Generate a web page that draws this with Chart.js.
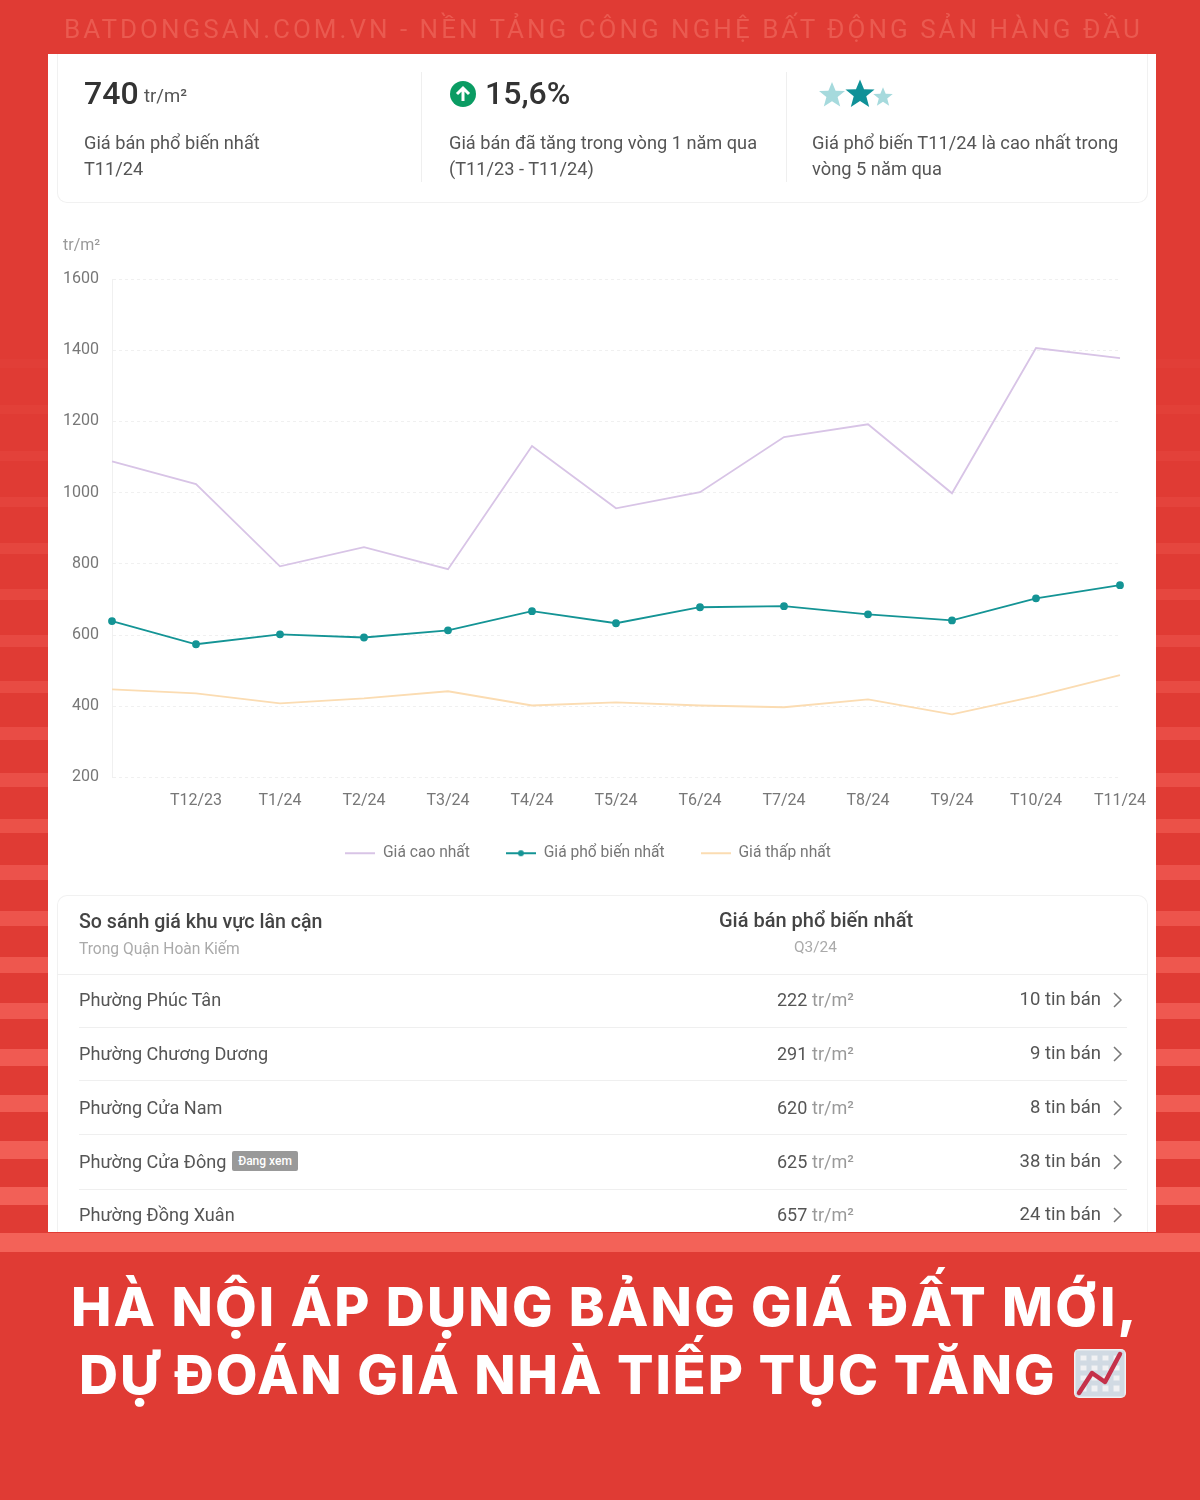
<!DOCTYPE html>
<html lang="vi">
<head>
<meta charset="utf-8">
<title>Bảng giá đất Hà Nội</title>
<script src="https://cdn.jsdelivr.net/npm/chart.js@4"></script>
<style>
html, body { margin: 0; padding: 0; }
body { width: 1200px; height: 1500px; position: relative; overflow: hidden; background: #e03b34; font-family: Roboto, sans-serif; }
.stripe { position: absolute; left: 0; width: 1200px; background: #ff7a70; }
#panel { position: absolute; left: 48px; top: 54px; width: 1108px; height: 1178px; background: #fff; }
.card { position: absolute; left: 57px; width: 1091px; border: 1px solid #f1f1f1; box-sizing: border-box; }
.t { position: absolute; white-space: nowrap; transform: translateY(-50%); color: #555; }
.line { position: absolute; background: #efefef; }
canvas#chart { position: absolute; left: 48px; top: 229px; }
svg { position: absolute; overflow: visible; }
</style>
</head>
<body>
<div id="stripes"></div>
<div id="panel"></div>
<div class="card" style="top:54px;height:149px;border-top:none;border-radius:0 0 10px 10px"></div>
<div class="card" style="top:895px;height:337px;border-bottom:none;border-radius:10px 10px 0 0"></div>
<canvas id="chart" width="1108" height="642"></canvas>
<svg style="left:0;top:0" width="1200" height="1500">
  <circle cx="463" cy="94" r="13" fill="#0a9c63"/>
  <path d="M463 101V88M457 94l6-6 6 6" stroke="#fff" stroke-width="3" fill="none"/>
  <path d="M0-13 3.6-4.2 13-4 5.6 2 8.2 11.5 0 6.2-8.2 11.5-5.6 2-13-4-3.6-4.2Z" fill="#a6dadd" transform="translate(832 95)"/>
  <path d="M0-13 3.6-4.2 13-4 5.6 2 8.2 11.5 0 6.2-8.2 11.5-5.6 2-13-4-3.6-4.2Z" fill="#a6dadd" transform="translate(883 97) scale(.75)"/>
  <path d="M0-13 3.6-4.2 13-4 5.6 2 8.2 11.5 0 6.2-8.2 11.5-5.6 2-13-4-3.6-4.2Z" fill="#0f9198" transform="translate(860 94) scale(1.12)"/>
  <g transform="translate(1074 1349)">
    <rect width="52" height="49" rx="5" fill="#f1f1f3"/>
    <path d="M4 4h44v41H4zM4 14h44M4 24h44M4 34h44M15 4v41M26 4v41M37 4v41" stroke="#c6d2dd" stroke-width="5" fill="none" opacity=".75"/>
    <path d="M5 44 18 24 31 33 46 5" stroke="#c5314a" stroke-width="4.5" fill="none" stroke-linecap="round" stroke-linejoin="round"/>
  </g>
</svg>
<div id="texts"></div>
<script>
// data
const months = ["T11/23", "T12/23", "T1/24", "T2/24", "T3/24", "T4/24", "T5/24", "T6/24", "T7/24", "T8/24", "T9/24", "T10/24", "T11/24"]
const highPrices = [1088, 1024, 793, 847, 785, 1131, 956, 1001, 1156, 1192, 998, 1406, 1378]
const commonPrices = [639, 574, 602, 593, 613, 667, 633, 678, 681, 658, 641, 703, 740]
const lowPrices = [447, 436, 408, 422, 442, 402, 411, 402, 397, 419, 377, 428, 487]
const yTicks = [200, 400, 600, 800, 1000, 1200, 1400, 1600]
const seriesNames = ["Giá cao nhất", "Giá phổ biến nhất", "Giá thấp nhất"]
const wards = ["Phường Phúc Tân", "Phường Chương Dương", "Phường Cửa Nam", "Phường Cửa Đông", "Phường Đồng Xuân"]
const wardPrices = [222, 291, 620, 625, 657]
const wardListings = ["10 tin bán", "9 tin bán", "8 tin bán", "38 tin bán", "24 tin bán"]

const HIGH = "#d8c4e6"
const COMMON = "#149495"
const LOW = "#fbdcb2"

//////// page background stripes ////////
const stripes = document.getElementById("stripes")
for (let i = 0; i < 21; i++) {
    const s = document.createElement("div")
    s.className = "stripe"
    s.style.top = (1233 - i * 46) + "px"
    s.style.height = Math.max(5, 19 - i * 0.55) + "px"
    s.style.opacity = Math.max(0.02, 0.62 - i * 0.03)
    stripes.appendChild(s)
}

//////// text around the chart ////////
const texts = document.getElementById("texts")
function put(text, x, y, css) {
    const d = document.createElement("div")
    d.className = "t"
    d.textContent = text
    d.style.cssText = `left:${x}px;top:${y}px;` + (css || "")
    texts.appendChild(d)
    return d
}
function rule(x, y, w, h) {
    const d = document.createElement("div")
    d.className = "line"
    d.style.cssText = `left:${x}px;top:${y}px;width:${w}px;height:${h}px;`
    texts.appendChild(d)
}

put("BATDONGSAN.COM.VN - NỀN TẢNG CÔNG NGHỆ BẤT ĐỘNG SẢN HÀNG ĐẦU", 64, 29, "font-size:26px;letter-spacing:3px;color:#ea5a50")

put("740", 84, 93, "font-size:32px;font-weight:500;color:#333")
put("tr/m²", 144, 96, "font-size:18.5px;color:#555")
put("Giá bán phổ biến nhất", 84, 142, "font-size:18.2px")
put("T11/24", 84, 168, "font-size:18.2px")
rule(421, 72, 1, 110)
put("15,6%", 485, 93, "font-size:32px;font-weight:500;color:#333")
put("Giá bán đã tăng trong vòng 1 năm qua", 449, 142, "font-size:18.2px")
put("(T11/23 - T11/24)", 449, 168, "font-size:18.2px")
rule(786, 72, 1, 110)
put("Giá phổ biến T11/24 là cao nhất trong", 812, 142, "font-size:18.3px")
put("vòng 5 năm qua", 812, 168, "font-size:18.3px")
put("tr/m²", 63, 244, "font-size:16px;color:#999")

put("So sánh giá khu vực lân cận", 79, 921, "font-size:19.6px;font-weight:500;color:#444")
put("Trong Quận Hoàn Kiếm", 79, 949, "font-size:15.6px;color:#aaa")
put("Giá bán phổ biến nhất", 719, 920, "font-size:20px;font-weight:500;color:#444")
put("Q3/24", 794, 947, "font-size:15.4px;color:#aaa")
rule(57, 974, 1091, 1)

const rowY = [999, 1053, 1107, 1161, 1214]
const sepY = [1027, 1080, 1134, 1189]
wards.forEach((w, i) => {
    const y = rowY[i]
    put(w, 79, y, "font-size:18.1px")
    put(String(wardPrices[i]), 777, y, "font-size:18px")
    put("tr/m²", 812, y, "font-size:18px;color:#999")
    put(wardListings[i], 0, y, "font-size:18.5px;left:auto;right:99px")
    const chev = document.createElementNS("http://www.w3.org/2000/svg", "svg")
    chev.setAttribute("width", "10")
    chev.setAttribute("height", "16")
    chev.style.cssText = `left:1113px;top:${y - 7}px`
    chev.innerHTML = '<path d="M1 1l7 7-7 7" stroke="#777" stroke-width="1.5" fill="none"/>'
    texts.appendChild(chev)
})
sepY.forEach((y) => rule(79, y, 1048, 1))
put("Đang xem", 232, 1161, "font-size:12px;font-weight:500;color:#fff;background:#999;padding:3px 5px;border-radius:2px;line-height:14px;width:56px;text-align:center")

put("HÀ NỘI ÁP DỤNG BẢNG GIÁ ĐẤT MỚI,", 71, 1306, "font-family:Inter,sans-serif;font-size:54px;font-weight:800;color:#fff;letter-spacing:2.2px")
put("DỰ ĐOÁN GIÁ NHÀ TIẾP TỤC TĂNG", 79, 1374, "font-family:Inter,sans-serif;font-size:54px;font-weight:800;color:#fff;letter-spacing:1.9px")

//////// legend samples ////////
function legendSample(color, dot) {
    const c = document.createElement("canvas")
    c.width = 30
    c.height = 10
    const g = c.getContext("2d")
    g.strokeStyle = color
    g.lineWidth = 2
    g.beginPath()
    g.moveTo(0, 5)
    g.lineTo(30, 5)
    g.stroke()
    if (dot) {
        g.fillStyle = color
        g.beginPath()
        g.arc(15, 5, 3, 0, Math.PI * 2)
        g.fill()
    }
    return c
}
const samples = [legendSample(HIGH, false), legendSample(COMMON, true), legendSample(LOW, false)]

//////// the chart ////////
const ctx = document.getElementById("chart").getContext("2d")
const priceChart = new Chart(ctx, {
    type: "line",
    data: {
        labels: months,
        datasets: [{
            label: seriesNames[0],
            data: highPrices,
            borderColor: HIGH,
            borderWidth: 1.8,
            pointRadius: 0,
            tension: 0,
        }, {
            label: seriesNames[1],
            data: commonPrices,
            borderColor: COMMON,
            backgroundColor: COMMON,
            borderWidth: 1.8,
            pointRadius: 3,
            tension: 0,
        }, {
            label: seriesNames[2],
            data: lowPrices,
            borderColor: LOW,
            borderWidth: 1.8,
            pointRadius: 0,
            tension: 0,
        }],
    },
    options: {
        responsive: false,
        animation: false,
        devicePixelRatio: 1,
        layout: {
            autoPadding: false,
            padding: { top: 50, right: 36, left: 8, bottom: 0 },
        },
        scales: {
            x: {
                offset: false,
                grid: { display: false },
                border: { display: false },
                afterFit: (s) => { s.height = 32 },
                ticks: {
                    autoSkip: false,
                    maxRotation: 0,
                    padding: 6,
                    color: "#777",
                    font: { family: "Roboto", size: 16 },
                    callback: (v, i) => i === 0 ? "" : months[i],
                },
            },
            y: {
                min: 200,
                max: 1600,
                afterFit: (s) => { s.width = 56 },
                afterBuildTicks: (s) => { s.ticks = yTicks.map((v) => ({ value: v })) },
                grid: {
                    color: "#f0f0f0",
                    drawTicks: false,
                },
                border: { color: "#f0f0f0", dash: [3, 3] },
                ticks: {
                    padding: 13,
                    color: "#777",
                    font: { family: "Roboto", size: 16 },
                    callback: (v) => String(v),
                },
            },
        },
        plugins: {
            tooltip: { enabled: false },
            legend: {
                position: "bottom",
                labels: {
                    usePointStyle: true,
                    pointStyleWidth: 30,
                    padding: 36,
                    color: "#777",
                    font: { family: "Roboto", size: 15.6 },
                    generateLabels: (chart) => chart.data.datasets.map((d, i) => ({
                        text: d.label,
                        fontColor: "#777",
                        pointStyle: samples[i],
                        datasetIndex: i,
                        lineWidth: 0,
                    })),
                },
            },
        },
    },
})
</script>
</body>
</html>
